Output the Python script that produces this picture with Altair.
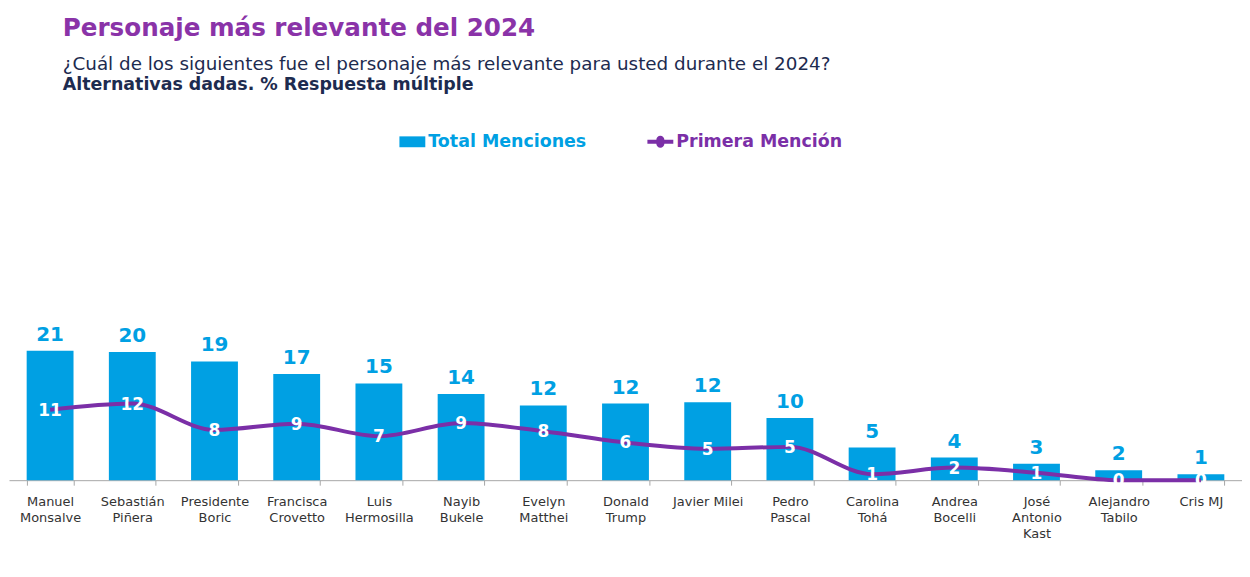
import altair as alt
import pandas as pd

# ---- data ----
nombres = [
    "Manuel\nMonsalve", "Sebastián\nPiñera", "Presidente\nBoric", "Francisca\nCrovetto",
    "Luis\nHermosilla", "Nayib\nBukele", "Evelyn\nMatthei", "Donald\nTrump",
    "Javier Milei", "Pedro\nPascal", "Carolina\nTohá", "Andrea\nBocelli",
    "José\nAntonio\nKast", "Alejandro\nTabilo", "Cris MJ",
]
total_menciones = [20.6, 20.4, 18.9, 16.9, 15.4, 13.7, 11.9, 12.2, 12.4, 9.9, 5.2, 3.6, 2.6, 1.6, 0.95]
primera_mencion = [11.2, 12.2, 8.0, 9.0, 7.0, 9.1, 7.8, 6.0, 5.0, 5.3, 0.95, 2.0, 1.2, 0.0, 0.0]
series = ["Total Menciones", "Primera Mención"]

BLUE = "#00A0E3"
PURPLE = "#7B2FA7"
TITLE_PURPLE = "#8A33A8"
NAVY = "#1D2B4F"
FONT = "DejaVu Sans"

df = pd.DataFrame({
    "nombre": nombres,
    "total": total_menciones,
    "primera": primera_mencion,
    "s_total": series[0],
    "s_primera": series[1],
})

color_scale = alt.Scale(domain=series, range=[BLUE, PURPLE])

x_enc = alt.X(
    "nombre:N", sort=None,
    scale=alt.Scale(paddingInner=0.43, paddingOuter=0.215),
    axis=alt.Axis(
        title=None, labelAngle=0, labelExpr="split(datum.label, '\\n')",
        tickBand="extent", tickSize=5, tickColor="#A6A6A6", domainColor="#A6A6A6",
        labelFont=FONT, labelFontSize=13, labelColor="#333333", labelPadding=10,
        labelLineHeight=16.5, labelBaseline="top",
    ),
)
y_scale = alt.Scale(domain=[0, 55.8])

base = alt.Chart(df)

bars = base.mark_bar().encode(
    x=x_enc,
    y=alt.Y("total:Q", scale=y_scale, axis=None),
    color=alt.Color(
        "s_total:N", scale=color_scale,
        legend=alt.Legend(
            title=None, orient="none", direction="horizontal",
            legendX=392, legendY=-1,
            symbolSize=676, symbolStrokeWidth=0, symbolOpacity=1,
            symbolType=alt.ExprRef(
                "datum.label == 'Total Menciones' ? 'M-1,-0.42H1V0.42H-1Z' : "
                "'M-1,-0.15H-0.31A0.31,0.31 0 0 1 0.31,-0.15H1V0.15H0.31A0.31,0.31 0 0 1 -0.31,0.15H-1Z'"
            ),
            labelColor=alt.ExprRef(
                "datum.label == 'Total Menciones' ? '" + BLUE + "' : '" + PURPLE + "'"
            ),
            labelFont=FONT, labelFontSize=17.5, labelFontWeight="bold",
            labelOffset=3, columnPadding=61, labelLimit=400,
        ),
    ),
)

bar_labels = base.mark_text(
    font=FONT, fontSize=20, fontWeight="bold", color=BLUE, baseline="alphabetic", dy=-10,
).encode(
    x=alt.X("nombre:N", sort=None),
    y=alt.Y("total:Q", scale=y_scale),
    text=alt.Text("total:Q", format=".0f"),
)

line = base.mark_line(interpolate="monotone", strokeWidth=4).encode(
    x=alt.X("nombre:N", sort=None),
    y=alt.Y("primera:Q", scale=y_scale),
    color=alt.Color("s_primera:N", scale=color_scale, legend=None),
)

line_labels = base.mark_text(
    font=FONT, fontSize=17, fontWeight="bold", color="white", baseline="middle", dy=1,
).encode(
    x=alt.X("nombre:N", sort=None),
    y=alt.Y("primera:Q", scale=y_scale),
    text=alt.Text("primera:Q", format=".0f"),
)

inner = alt.layer(bars, bar_labels, line, line_labels).properties(
    width=1238, height=352,
    title=alt.TitleParams(
        "Alternativas dadas. % Respuesta múltiple", anchor="start", dx=54,
        font=FONT, fontSize=17.5, fontWeight="bold", color=NAVY, offset=36,
    ),
)

chart = alt.vconcat(inner).properties(
    title=alt.TitleParams(
        "Personaje más relevante del 2024",
        subtitle="¿Cuál de los siguientes fue el personaje más relevante para usted durante el 2024?",
        anchor="start", dx=54,
        font=FONT, fontSize=24.7, fontWeight="bold", color=TITLE_PURPLE,
        subtitleFont=FONT, subtitleFontSize=18.4, subtitleColor=NAVY, subtitlePadding=14,
        offset=3,
    ),
    padding={"left": 1, "top": 7, "right": 0, "bottom": 5},
    background="white",
).configure_view(stroke=None)

chart.save("out.html", embed_options={"renderer": "svg", "actions": False})
